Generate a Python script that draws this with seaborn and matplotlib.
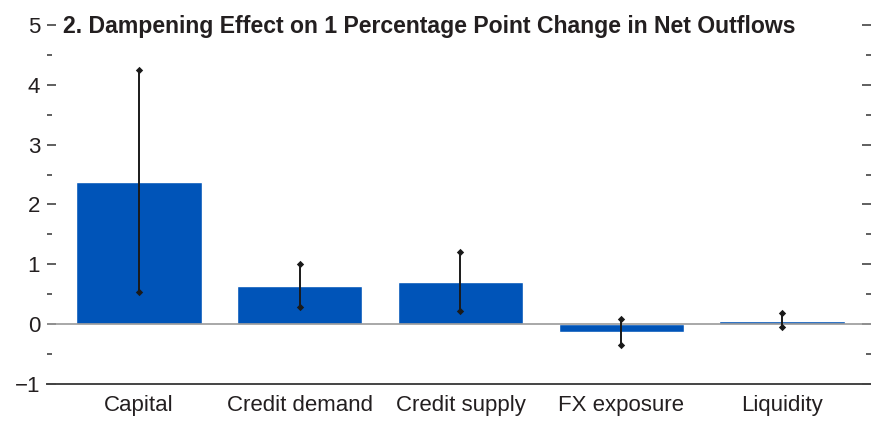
import numpy as np
import pandas as pd
import matplotlib
matplotlib.use("Agg")
import matplotlib.pyplot as plt
from matplotlib.ticker import MultipleLocator
import seaborn as sns

# данные
categories = ["Capital", "Credit demand", "Credit supply", "FX exposure", "Liquidity"]
effect = [2.38, 0.63, 0.70, -0.13, 0.05]
ci_low = [0.53, 0.28, 0.22, -0.35, -0.05]
ci_high = [4.25, 1.00, 1.20, 0.08, 0.18]

title = "2. Dampening Effect on 1 Percentage Point Change in Net Outflows"

sns.set_style("white")
plt.rcParams["font.family"] = ["Liberation Sans Narrow", "Liberation Sans", "DejaVu Sans"]

TXT = "#231f20"
BLUE = "#0054b8"

df = pd.DataFrame({"cat": categories, "val": effect})

fig = plt.figure(figsize=(8.71, 4.22), dpi=100)
ax = fig.add_axes([47 / 871, 1 - 384 / 422, 1 - 47 / 871, (384 - 25) / 422])

sns.barplot(data=df, x="cat", y="val", color=BLUE, saturation=1, width=0.78,
            ax=ax, zorder=2)

x = np.arange(len(categories))
ax.vlines(x, ci_low, ci_high, color="#1a1a1a", linewidth=1.4, zorder=4)
ax.scatter(np.r_[x, x], np.r_[ci_low, ci_high], marker="D", s=14,
           color="#1a1a1a", zorder=5, linewidths=0)

ax.axhline(0, color="#9a9a9a", linewidth=1.2, zorder=3)

ax.set_ylim(-1, 5)
ax.set_xlim(-0.572, 4.554)
ax.yaxis.set_major_locator(MultipleLocator(1))
ax.yaxis.set_minor_locator(MultipleLocator(0.5))
ax.set_xlabel("")
ax.set_ylabel("")

for s in ["top", "left", "right"]:
    ax.spines[s].set_visible(False)
ax.spines["bottom"].set_color("#444444")
ax.spines["bottom"].set_linewidth(1.4)

ax.tick_params(axis="y", which="both", direction="in", left=True, right=True,
               colors="#444444", labelcolor=TXT, labelsize=16, pad=5, width=1.2)
ax.tick_params(axis="y", which="major", length=6.5)
ax.tick_params(axis="y", which="minor", length=3.5)
ax.tick_params(axis="x", direction="in", length=6, width=1.2, colors="#444444",
               labelcolor=TXT, labelsize=16, pad=8)

fig.text(63 / 871, 1 - 33 / 422, title, fontsize=16.6, fontweight="bold",
         color=TXT, va="baseline", ha="left")

fig.savefig("out.png", dpi=100)
